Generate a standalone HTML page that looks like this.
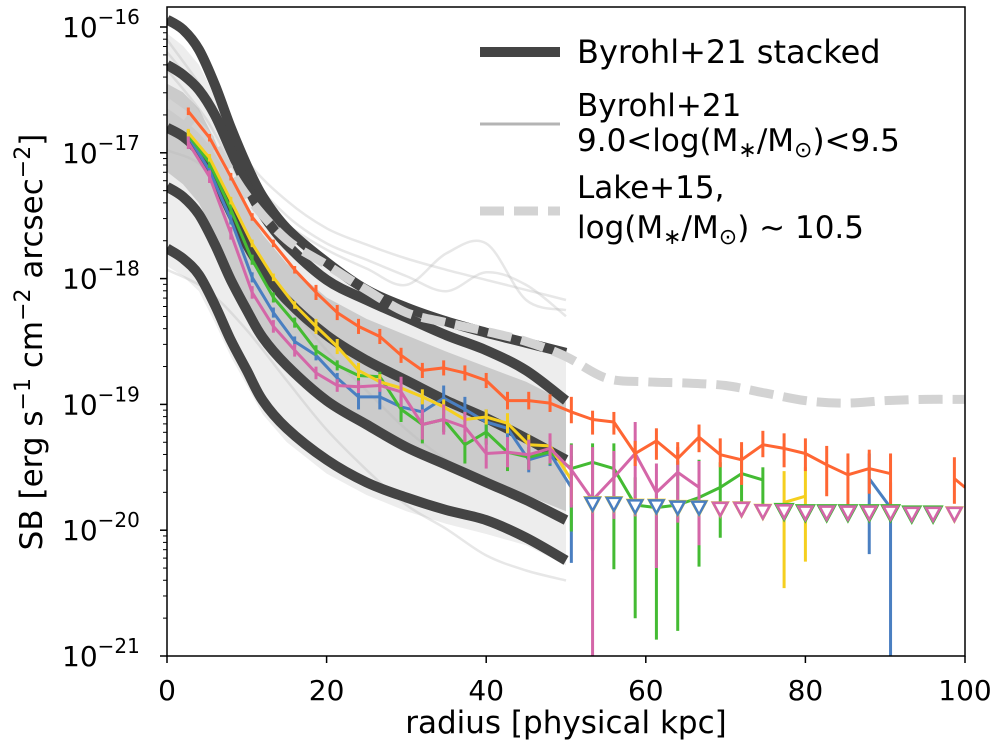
<!DOCTYPE html>
<html><head><meta charset="utf-8"><style>
html,body{margin:0;padding:0;background:#fff;}
svg{display:block;font-family:"DejaVu Sans","Liberation Sans",sans-serif;}
</style></head><body>
<svg id="chart" width="995" height="748" viewBox="0 0 995 748" xmlns="http://www.w3.org/2000/svg">
<defs><clipPath id="clip"><rect x="167" y="7" width="798" height="649"/></clipPath></defs>
<rect x="0" y="0" width="995" height="748" fill="#fff"/>
<g id="plot" clip-path="url(#clip)"></g>
<rect x="167" y="7" width="798" height="649" fill="none" stroke="#000" stroke-width="1.5"/>
<g id="axes"></g>
<g id="legend">
  <line x1="480" y1="52" x2="560" y2="52" stroke="#444" stroke-width="10"/>
  <text x="577" y="63" font-size="32">Byrohl+21 stacked</text>
  <line x1="480" y1="124" x2="560" y2="124" stroke="#b4b4b4" stroke-width="3"/>
  <text x="577" y="116" font-size="31">Byrohl+21</text>
  <text x="577" y="151" font-size="31">9.0&lt;log(M<tspan font-size="22" dy="6">∗</tspan><tspan dy="-6">/M</tspan><tspan font-size="22" dy="6">⊙</tspan><tspan dy="-6">)&lt;9.5</tspan></text>
  <line x1="480" y1="211" x2="560" y2="211" stroke="#d3d3d3" stroke-width="9" stroke-dasharray="24,10"/>
  <text x="577" y="198" font-size="31">Lake+15,</text>
  <text x="577" y="238" font-size="31">log(M<tspan font-size="22" dy="6">∗</tspan><tspan dy="-6">/M</tspan><tspan font-size="22" dy="6">⊙</tspan><tspan dy="-6">) ~ 10.5</tspan></text>
</g>
<text x="566" y="733" font-size="31" text-anchor="middle">radius [physical kpc]</text>
<text transform="translate(42,342) rotate(-90)" font-size="31" text-anchor="middle">SB [erg s<tspan font-size="22" dy="-12">−1</tspan><tspan dy="12"> cm</tspan><tspan font-size="22" dy="-12">−2</tspan><tspan dy="12"> arcsec</tspan><tspan font-size="22" dy="-12">−2</tspan><tspan dy="12">]</tspan></text>
</svg>
<script>
// ---- data ----
const xTicks = [0,20,40,60,80,100];
const yTickExp = [-16,-17,-18,-19,-20,-21];
const stackRadii = [0,2,4,6,8,10,12,15,20,25,30,35,40,45,50];
const stackA = [-15.94,-16.02,-16.18,-16.46,-16.80,-17.10,-17.35,-17.60,-17.87,-18.09,-18.23,-18.34,-18.43,-18.51,-18.59];
const stackB = [-16.30,-16.38,-16.50,-16.70,-16.98,-17.26,-17.49,-17.73,-18.01,-18.17,-18.31,-18.45,-18.57,-18.73,-18.97];
const stackC = [-16.80,-16.87,-16.99,-17.20,-17.47,-17.73,-17.93,-18.17,-18.45,-18.65,-18.81,-18.97,-19.11,-19.27,-19.44];
const stackD = [-17.27,-17.35,-17.49,-17.73,-18.01,-18.25,-18.47,-18.69,-18.97,-19.16,-19.34,-19.48,-19.62,-19.76,-19.92];
const stackE = [-17.76,-17.84,-17.97,-18.21,-18.49,-18.73,-18.97,-19.19,-19.44,-19.62,-19.74,-19.84,-19.92,-20.06,-20.24];
const bandOuterHi = [-16.05,-16.15,-16.30,-16.55,-16.85,-17.10,-17.35,-17.60,-17.85,-18.05,-18.20,-18.30,-18.40,-18.48,-18.55];
const bandOuterLo = [-17.90,-17.98,-18.10,-18.35,-18.62,-18.85,-19.08,-19.30,-19.55,-19.72,-19.85,-19.95,-20.03,-20.12,-20.28];
const bandInnerHi = [-16.45,-16.52,-16.65,-16.90,-17.20,-17.45,-17.65,-17.88,-18.15,-18.32,-18.45,-18.58,-18.70,-18.82,-18.98];
const bandInnerLo = [-17.15,-17.25,-17.40,-17.65,-17.95,-18.20,-18.42,-18.65,-18.95,-19.15,-19.32,-19.47,-19.60,-19.72,-19.85];
const thinRadii = [0,5,10,15,20,25,30,35,40,45,50];
const thin1 = [-16.34,-16.74,-17.30,-17.57,-17.77,-17.92,-18.05,-17.80,-17.72,-18.17,-18.25];
const thin2 = [-16.10,-16.54,-17.06,-17.38,-17.60,-17.73,-17.84,-17.93,-18.01,-18.09,-18.17];
const thin3 = [-16.98,-17.14,-17.69,-18.17,-18.57,-18.89,-19.20,-19.44,-19.60,-19.76,-19.92];
const thin4 = [-17.93,-18.09,-18.41,-18.81,-19.20,-19.52,-19.80,-19.99,-20.20,-20.32,-20.40];
const thin5 = [-16.20,-16.60,-17.15,-17.50,-17.72,-17.85,-17.98,-18.10,-17.95,-18.05,-18.30];
const lakeRadii = [0,5,10,15,20,25,30,35,40,45,50,55,60,65,70,75,80,85,90,95,100];
const lakeSB = [-16.60,-16.86,-17.34,-17.69,-17.89,-18.09,-18.27,-18.35,-18.42,-18.50,-18.62,-18.79,-18.82,-18.83,-18.85,-18.91,-18.97,-18.99,-18.97,-18.96,-18.96];
const radii = [2.67,5.33,8,10.67,13.33,16,18.67,21.33,24,26.67,29.33,32,34.67,37.33,40,42.67,45.33,48,50.67,53.33,56,58.67,61.33,64,66.67,69.33,72,74.67,77.33,80,82.67,85.33,88,90.67,93.33,96,98.67,100];
const N=null;
const orange = [-16.67,-16.88,-17.19,-17.51,-17.72,-17.93,-18.11,-18.27,-18.38,-18.46,-18.61,-18.73,-18.71,-18.75,-18.81,-18.97,-18.97,-18.99,-19.06,-19.12,-19.14,-19.39,-19.29,-19.43,-19.26,-19.40,-19.44,-19.32,-19.35,-19.39,-19.48,-19.56,-19.51,-19.55,N,N,-19.59,-19.66];
const orangeUp = [.03,.03,.03,.03,.03,.03,.06,.06,.06,.06,.06,.06,.06,.06,.06,.07,.07,.07,.12,.07,.08,.10,.10,.13,.10,.13,.14,.11,.12,.12,.15,.17,.15,.16,N,N,.17,0];
const orangeDn = [.03,.03,.03,.03,.03,.03,.06,.06,.06,.06,.06,.06,.06,.06,.06,.07,.07,.07,.09,.12,.10,.10,.15,.05,.12,.10,.20,.10,.15,.14,.25,.25,.20,.25,N,N,.20,0];
const yellow = [-16.84,-17.04,-17.38,-17.72,-17.99,-18.21,-18.38,-18.54,-18.73,-18.82,-18.87,-18.94,-19.02,-19.12,-19.10,-19.15,-19.32,-19.33,-19.60,N,N,N,N,N,N,N,N,N,-19.78,-19.73,N,N,N,N,N,N,N,N];
const yellowUp = [.03,.03,.03,.03,.03,.03,.06,.06,.06,.06,.06,.06,.06,.06,.06,.08,.08,.08,.15,N,N,N,N,N,N,N,N,N,.25,.23,N,N,N,N,N,N,N,N];
const yellowDn = [.03,.03,.03,.03,.03,.03,.06,.06,.06,.06,.06,.06,.06,.06,.06,.08,.08,.08,.20,N,N,N,N,N,N,N,N,N,.68,.52,N,N,N,N,N,N,N,N];
const green = [-16.86,-17.08,-17.45,-17.85,-18.15,-18.35,-18.57,-18.69,-18.77,-18.78,-19.04,-19.16,-19.12,-19.32,-19.22,-19.38,-19.42,-19.38,-19.51,-19.46,-19.51,-19.80,-19.82,-19.80,-19.74,-19.66,-19.55,-19.60,N,N,N,N,N,N,N,N,N,N];
const greenUp = [.04,.04,.04,.04,.04,.04,.04,.04,.04,.04,.08,.08,.08,.08,.08,.08,.08,.08,.20,.15,.20,.22,.12,.35,.30,.20,.20,.10,N,N,N,N,N,N,N,N,N,N];
const greenDn = [.04,.04,.04,.04,.04,.04,.04,.04,.04,.04,.10,.15,.10,.15,.10,.15,.10,.10,.50,.70,.80,.90,1.05,1.00,.55,.40,.30,.30,N,N,N,N,N,N,N,N,N,N];
const blue = [-16.87,-17.14,-17.53,-17.99,-18.27,-18.50,-18.61,-18.79,-18.94,-18.94,-19.02,-19.06,-18.95,-19.04,-19.14,-19.19,-19.44,-19.39,-19.66,N,N,N,N,N,N,N,N,N,N,N,N,N,-19.59,-19.82,N,N,N,N];
const blueUp = [.04,.04,.04,.04,.04,.04,.04,.04,.10,.10,.10,.10,.10,.10,.10,.10,.10,.10,.25,N,N,N,N,N,N,N,N,N,N,N,N,N,.20,.20,N,N,N,N];
const blueDn = [.04,.04,.04,.04,.04,.04,.04,.04,.10,.10,.10,.10,.10,.10,.10,.10,.10,.10,.60,N,N,N,N,N,N,N,N,N,N,N,N,N,.60,1.30,N,N,N,N];
const pink = [-16.92,-17.19,-17.64,-18.11,-18.38,-18.57,-18.75,-18.85,-18.86,-18.85,-18.90,-19.16,-19.12,-19.18,-19.39,-19.38,-19.40,-19.35,-19.52,-19.76,-19.58,-19.39,-19.70,-19.54,-19.66,N,N,N,N,N,N,N,N,N,N,N,N,N];
const pinkUp = [.05,.05,.05,.05,.05,.05,.05,.05,.05,.05,.12,.12,.12,.12,.12,.12,.12,.12,.20,.42,.21,.25,.23,.20,.21,N,N,N,N,N,N,N,N,N,N,N,N,N];
const pinkDn = [.05,.05,.05,.05,.05,.05,.05,.05,.05,.05,.12,.12,.12,.12,.12,.12,.12,.12,.30,1.40,.33,.50,.60,.40,.46,N,N,N,N,N,N,N,N,N,N,N,N,N];
const limitLevel = [N,N,N,N,N,N,N,N,N,N,N,N,N,N,N,N,N,N,N,-19.79,-19.79,-19.81,-19.81,-19.82,-19.82,-19.83,-19.83,-19.85,-19.85,-19.86,-19.86,-19.86,-19.86,-19.86,-19.87,-19.87,-19.87,N];
const yellowLimitIdx = [19,20,21,22,23,24,25,26,27,30,31,32,33,34,35,36];
const blueLimitIdx = [19,20,21,22,23,24,25,26,27,28,29,30,31,34,35,36];
const greenLimitIdx = [28,29,30,31,32,33,34,35];
const pinkLimitIdx = [25,26,27,28,29,30,31,32,33,34,35,36];

// ---- scales ----
const X0=167, PXK=7.98, Y16=27, DEC=125.8;
function X(r){return X0+r*PXK;}
function Y(l){return Y16+(-16-l)*DEC;}
const NS="http://www.w3.org/2000/svg";
const plot=document.getElementById('plot');
const axes=document.getElementById('axes');
function mk(tag,attrs,parent){const e=document.createElementNS(NS,tag);for(const k in attrs)e.setAttribute(k,attrs[k]);parent.appendChild(e);return e;}
function pathFrom(rs,vs){let d='',pen=false;for(let i=0;i<rs.length;i++){if(vs[i]===null){pen=false;continue;}d+=(pen?'L':'M')+X(rs[i]).toFixed(1)+','+Y(vs[i]).toFixed(1);pen=true;}return d;}
function smoothFrom(rs,vs){
  const p=rs.map((r,i)=>[X(r),Y(vs[i])]);
  let d='M'+p[0][0].toFixed(1)+','+p[0][1].toFixed(1);
  for(let i=0;i<p.length-1;i++){
    const p0=p[Math.max(0,i-1)],p1=p[i],p2=p[i+1],p3=p[Math.min(p.length-1,i+2)];
    const c1=[p1[0]+(p2[0]-p0[0])/6,p1[1]+(p2[1]-p0[1])/6];
    const c2=[p2[0]-(p3[0]-p1[0])/6,p2[1]-(p3[1]-p1[1])/6];
    d+='C'+c1[0].toFixed(1)+','+c1[1].toFixed(1)+' '+c2[0].toFixed(1)+','+c2[1].toFixed(1)+' '+p2[0].toFixed(1)+','+p2[1].toFixed(1);
  }
  return d;
}
function band(rs,hi,lo,fill,name){
  let d='M'+rs.map((r,i)=>X(r).toFixed(1)+','+Y(hi[i]).toFixed(1)).join('L');
  for(let i=rs.length-1;i>=0;i--)d+='L'+X(rs[i]).toFixed(1)+','+Y(lo[i]).toFixed(1);
  const p=mk('path',{d:d+'Z',fill:fill},plot);
  
  
}
band(stackRadii,bandOuterHi,bandOuterLo,'#ededed','individual-profiles-outer-band');
band(stackRadii,bandInnerHi,bandInnerLo,'#cbcbcb','individual-profiles-inner-band');
[thin1,thin2,thin3,thin4,thin5].forEach((t,i)=>{
  const p=mk('path',{d:smoothFrom(thinRadii,t),fill:'none',stroke:'#bbb','stroke-width':2.5,'stroke-opacity':0.35},plot);
  
  
});
[stackA,stackB,stackC,stackD,stackE].forEach((s,i)=>{
  const p=mk('path',{d:smoothFrom(stackRadii,s),fill:'none',stroke:'#444','stroke-width':10,'stroke-linejoin':'round'},plot);
  
  
});
const lk=mk('path',{d:smoothFrom(lakeRadii,lakeSB),fill:'none',stroke:'#d3d3d3','stroke-width':9,'stroke-dasharray':'24,10'},plot);



const series=[
 {name:'blue',c:'#4a7fc1',v:blue,u:blueUp,d:blueDn,lim:blueLimitIdx,ts:7},
 {name:'green',c:'#44bb33',v:green,u:greenUp,d:greenDn,lim:greenLimitIdx,ts:8.5},
 {name:'yellow',c:'#f5cf1f',v:yellow,u:yellowUp,d:yellowDn,lim:yellowLimitIdx,ts:7.5},
 {name:'pink',c:'#d466a8',v:pink,u:pinkUp,d:pinkDn,lim:pinkLimitIdx,ts:7},
 {name:'orange',c:'#ff6633',v:orange,u:orangeUp,d:orangeDn,lim:[],ts:7}
];
series.forEach(s=>{
  const g=mk('g',{},plot);
  
  
  for(let i=0;i<radii.length;i++){
    if(s.v[i]===null||!s.u[i]&&!s.d[i])continue;
    const e=mk('line',{x1:X(radii[i]),x2:X(radii[i]),y1:Y(s.v[i]+s.u[i]),y2:Y(s.v[i]-s.d[i]),stroke:s.c,'stroke-width':3},g);
    
    
  }
  const p=mk('path',{d:pathFrom(radii,s.v),fill:'none',stroke:s.c,'stroke-width':3,'stroke-linejoin':'round'},g);
  
  
});
// upper limits: draw order yellow, green, blue, pink
[series[2],series[1],series[0],series[3]].forEach(s=>{
  s.lim.forEach(i=>{
    const x=X(radii[i]), y=Y(limitLevel[i]), h=s.ts;
    const t=mk('path',{d:`M${x-h},${y-h*0.85}L${x+h},${y-h*0.85}L${x},${y+h}Z`,fill:'#fff',stroke:s.c,'stroke-width':2.5,'stroke-linejoin':'miter'},plot);
    
    
  });
});

xTicks.forEach(v=>{
  const x=X(v);
  const l=mk('line',{x1:x,x2:x,y1:656,y2:663,stroke:'#000','stroke-width':1.5},axes);
  
  
  const t=mk('text',{x:x,y:700,'font-size':28,'text-anchor':'middle'},axes);
  t.textContent=v;
  
  
});
yTickExp.forEach(e=>{
  const y=Y(e);
  const l=mk('line',{x1:160,x2:167,y1:y,y2:y,stroke:'#000','stroke-width':1.5},axes);
  
  
  if(e>-21){for(let m=2;m<=9;m++){const ym=Y(e-1+Math.log10(m));const ml=mk('line',{x1:163,x2:167,y1:ym,y2:ym,stroke:'#000','stroke-width':1},axes);
    
    }}
  const t=mk('text',{x:62,y:y+10,'font-size':28},axes);
  
  
  t.innerHTML='10<tspan font-size="20" dy="-13">−'+(-e)+'</tspan>';
});
</script>
</body></html>
